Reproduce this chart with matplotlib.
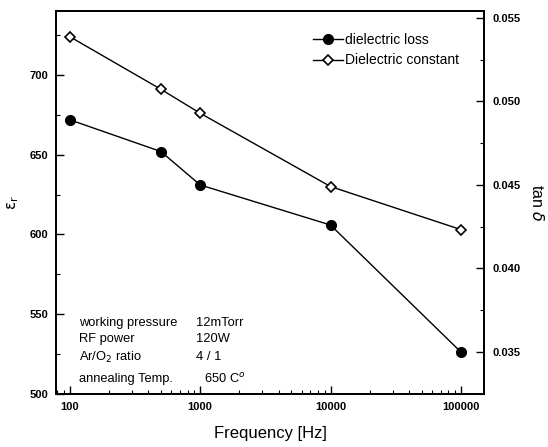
import matplotlib.pyplot as plt
from matplotlib.ticker import MultipleLocator, FixedLocator, NullFormatter

plt.rcParams['font.family'] = ['Liberation Sans', 'DejaVu Sans']

freq = [100, 500, 1000, 10000, 100000]
eps_r = [724, 691, 676, 630, 603]          # dielectric constant, left axis
tan_d = [0.0489, 0.0470, 0.0450, 0.0426, 0.0350]  # dielectric loss, right axis

x_ticks = [100, 1000, 10000, 100000]
x_ticklabels = ['100', '1000', '10000', '100000']

fig = plt.figure(figsize=(5.48, 4.47), dpi=100)
ax = fig.add_axes([0.103, 0.119, 0.78, 0.856])
ax2 = ax.twinx()

l2, = ax.plot(freq, eps_r, '-', color='black', lw=1.0, marker='D', ms=5.5,
              mfc='white', mec='black', mew=1.2, zorder=3)
l1, = ax2.plot(freq, tan_d, '-', color='black', lw=1.0, marker='o', ms=7,
               mfc='black', mec='black', zorder=3)

ax.set_xscale('log')
ax.set_xlim(79, 150000)
ax.set_ylim(500, 740)
ax2.set_ylim(0.0325, 0.0554)

ax.xaxis.set_major_locator(FixedLocator(x_ticks))
ax.set_xticklabels(x_ticklabels)
ax.xaxis.set_minor_formatter(NullFormatter())
ax.yaxis.set_major_locator(MultipleLocator(50))
ax.yaxis.set_minor_locator(MultipleLocator(25))
ax2.yaxis.set_major_locator(MultipleLocator(0.005))
ax2.yaxis.set_minor_locator(MultipleLocator(0.0025))
ax2.yaxis.set_major_formatter(plt.FuncFormatter(lambda v, p: f'{v:.3f}'))

for a in (ax, ax2):
    a.tick_params(which='major', direction='in', length=6, width=1.0,
                  labelsize=8, pad=6)
    a.tick_params(which='minor', direction='in', length=3, width=0.8)
    for s in a.spines.values():
        s.set_linewidth(1.3)
for lab in ax.get_xticklabels() + ax.get_yticklabels() + ax2.get_yticklabels():
    lab.set_fontweight('bold')

ax.set_xlabel('Frequency [Hz]', fontsize=12, labelpad=10)
ax.set_ylabel(r'$\mathrm{\varepsilon_r}$', fontsize=11, labelpad=6)
ax2.set_ylabel(r'tan $\delta$', fontsize=11.5, rotation=270, labelpad=18)

ax2.legend([l1, l2], ['dielectric loss', 'Dielectric constant'],
           loc='upper left', bbox_to_anchor=(0.57, 0.975), frameon=False,
           fontsize=10, handlelength=2.2, handletextpad=0.15, labelspacing=0.45)

info_left = ['working pressure', 'RF power', r'Ar/O$_2$ ratio', 'annealing Temp.']
info_right = ['12mTorr', '120W', '4 / 1', '650 C$^o$']
info_y = [0.186, 0.142, 0.096, 0.040]
info_x = [0.327, 0.327, 0.327, 0.346]
for lt, rt, yy, xx in zip(info_left, info_right, info_y, info_x):
    ax.text(0.052, yy, lt, transform=ax.transAxes, fontsize=9.3, va='center')
    ax.text(xx, yy, rt, transform=ax.transAxes, fontsize=9.3, va='center')

fig.savefig('out.png', dpi=100)
